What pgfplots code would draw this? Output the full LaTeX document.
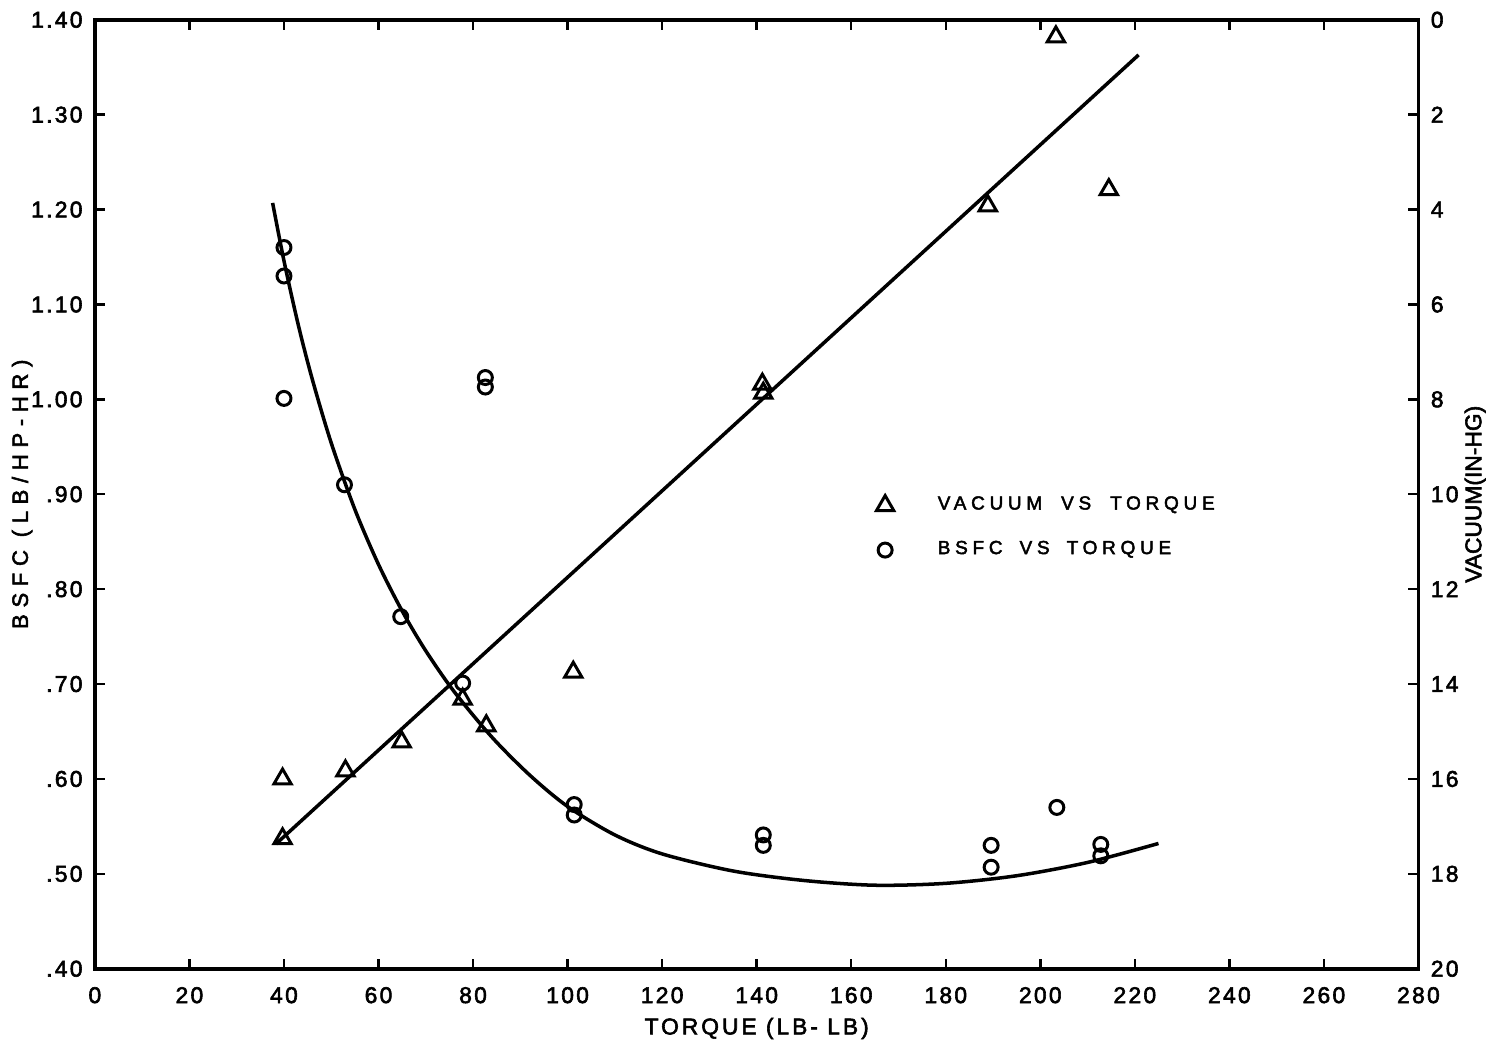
\documentclass[border=0pt]{standalone}
\usepackage{fontspec}
\setmainfont{Liberation Sans}
\newfontfamily\lblfont[LetterSpace=13,FakeBold=2.5]{Liberation Sans}
\newfontfamily\ylblfont[LetterSpace=30,FakeBold=2.5]{Liberation Sans}
\newfontfamily\rlblfont[LetterSpace=0,FakeBold=2.5]{Liberation Sans}
\newfontfamily\legfont[LetterSpace=25,FakeBold=2.5]{Liberation Sans}
\newfontfamily\tickfont[LetterSpace=10,FakeBold=2.5]{Liberation Sans}
\usepackage{pgfplots}
\pgfplotsset{compat=1.18}

\pgfplotsset{
  base/.style={
    scale only axis,
    width=13.25cm, height=9.5cm,
    xmin=0, xmax=280,
    tick align=inside,
    major tick length=1mm,
    axis line style={line width=1.1pt},
    tick style={line width=0.7pt, black},
    /pgf/number format/assume math mode=true,
    tick label style={font=\tickfont\fontsize{6.5}{7}\selectfont},
    label style={inner sep=0pt},
  }
}

\begin{document}
\begin{tikzpicture}
% BSFC (left axis)
\begin{axis}[
  base,
  ymin=0.4, ymax=1.4,
  xtick={0,20,40,60,80,100,120,140,160,180,200,220,240,260,280},
  ytick={0.4,0.5,0.6,0.7,0.8,0.9,1.0,1.1,1.2,1.3,1.4},
  yticklabels={.40,.50,.60,.70,.80,.90,1.00,1.10,1.20,1.30,1.40},
  xtick pos=both, ytick pos=left,
  xticklabel style={yshift=-0.6mm},
  xlabel={TORQUE (LB- LB)},
  ylabel={BSFC (LB/HP-HR)},
  xlabel style={at={(axis description cs:0.5,-0.063)}, anchor=center,
    font=\lblfont\fontsize{6.5}{7}\selectfont},
  ylabel style={at={(axis description cs:-0.055,0.5)}, anchor=center,
    font=\ylblfont\fontsize{6.3}{7}\selectfont},
]
\addplot[only marks, mark=o, mark size=0.7mm, mark options={line width=0.85pt}] coordinates {
  (40,1.160) (40,1.130) (40,1.001) (52.8,0.910) (64.7,0.771) (77.8,0.701)
  (82.6,1.023) (82.6,1.013) (101.4,0.573) (101.4,0.562)
  (141.4,0.541) (141.4,0.530) (189.6,0.530) (189.6,0.507)
  (203.5,0.570) (212.8,0.531) (212.8,0.519)
};
\addplot[smooth, line width=1pt, tension=0.5] coordinates {
  (37.6,1.207) (40,1.146) (43,1.079) (46,1.021) (50,0.954) (55,0.884)
  (60,0.826) (65,0.777) (70,0.735) (76,0.692) (84,0.644) (92,0.604)
  (100,0.571) (110,0.541) (120,0.521) (135,0.503) (150,0.493) (165,0.488)
  (180,0.490) (195,0.498) (210,0.512) (225,0.532)
};
\end{axis}
% Vacuum (right axis)
\begin{axis}[
  base,
  clip=false,
  ymin=0, ymax=20, y dir=reverse,
  hide x axis,
  ytick={0,2,4,6,8,10,12,14,16,18,20},
  ytick pos=right, yticklabel pos=right,
  ylabel={VACUUM(IN-HG)},
  ylabel style={at={(axis description cs:1.043,0.5)}, anchor=center,
    font=\rlblfont\fontsize{6.5}{7}\selectfont},
  legend cell align=left,
  legend style={draw=none, fill=none, at={(axis description cs:0.590,0.506)},
    anchor=north west, inner sep=0pt, row sep=1.2mm,
    font=\legfont\fontsize{5.4}{6.5}\selectfont,
    /tikz/every odd column/.style={column sep=3.7mm}},
]
\addplot[only marks, mark=triangle, mark size=1.0mm, mark options={line width=0.85pt}] coordinates {
  (39.7,16.00) (39.7,17.26) (53.0,15.83) (64.9,15.22) (77.8,14.32)
  (82.8,14.88) (101.2,13.75) (141.2,7.68) (141.4,7.87) (188.9,3.92)
  (203.3,0.36) (214.5,3.58)
};
\addlegendentry{VACUUM\hspace{1em}VS\hspace{1em}TORQUE}
\addplot[line width=1pt, forget plot] coordinates {
  (38.3,17.37) (100,11.75) (220.8,0.74)
};
\addlegendimage{only marks, mark=o, mark size=0.7mm, mark options={line width=0.85pt}}
\addlegendentry{BSFC\hspace{0.9em}VS\hspace{0.9em}TORQUE}
\path (axis description cs:-0.0717,-0.0779) rectangle (axis description cs:1.0498,1.0179);
\end{axis}
\end{tikzpicture}
\end{document}
